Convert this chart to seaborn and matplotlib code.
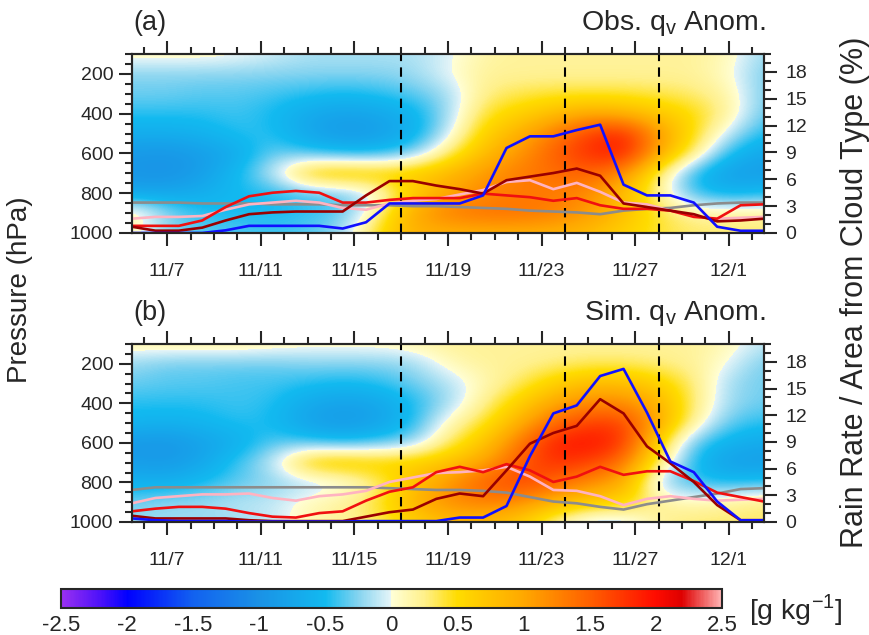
import numpy as np
import pandas as pd
import matplotlib
matplotlib.use("Agg")
import matplotlib.pyplot as plt
from matplotlib.colors import LinearSegmentedColormap, Normalize
from matplotlib.ticker import FixedLocator, MultipleLocator
import seaborn as sns

sns.set_style("ticks")
plt.rcParams['font.family'] = ['Liberation Sans', 'DejaVu Sans']
plt.rcParams['mathtext.fontset'] = 'custom'
plt.rcParams['mathtext.rm'] = 'Liberation Sans'

# ---------------- data ----------------
# day of November (12/1 = 31), daily values centred at noon
days = [5.5, 6.5, 7.5, 8.5, 9.5, 10.5, 11.5, 12.5, 13.5, 14.5, 15.5, 16.5, 17.5, 18.5,
        19.5, 20.5, 21.5, 22.5, 23.5, 24.5, 25.5, 26.5, 27.5, 28.5, 29.5, 30.5, 31.5, 32.5]
tick_days = [7, 11, 15, 19, 23, 27, 31]
tick_labels = ['11/7', '11/11', '11/15', '11/19', '11/23', '11/27', '12/1']
event_days = [17, 24, 28]

series_order = ['gray', 'pink', 'red', 'darkred', 'blue']
series_colors = {'gray': '#8c8c8c', 'pink': '#ffb3c1', 'red': '#f01010',
                 'darkred': '#990000', 'blue': '#1010ff'}

obs_blue = [0, 0, 0, 0, 0.3, 0.8, 0.8, 0.8, 0.8, 0.5, 1.2, 3.3, 3.3, 3.3,
            3.3, 4.2, 9.5, 10.8, 10.8, 11.5, 12.1, 5.4, 4.2, 4.2, 3.4, 0.7, 0.25, 0.25]
obs_darkred = [0.7, 0.26, 0.26, 0.6, 1.4, 2.1, 2.3, 2.4, 2.4, 2.4, 4.2, 5.8, 5.8, 5.3,
               4.9, 4.4, 5.9, 6.3, 6.7, 7.2, 6.4, 3.3, 2.9, 2.5, 2.1, 1.3, 1.4, 1.6]
obs_red = [0.8, 0.8, 0.8, 1.4, 2.9, 4.1, 4.5, 4.7, 4.5, 3.4, 3.4, 3.7, 3.9, 3.9,
           3.9, 4.4, 4.2, 4.0, 3.6, 3.9, 3.1, 2.7, 2.7, 2.5, 1.8, 1.6, 3.1, 3.2]
obs_pink = [1.6, 1.8, 1.8, 1.9, 2.6, 3.2, 3.4, 3.6, 3.4, 2.8, 2.6, 3.3, 3.6, 3.8,
            4.3, 4.8, 5.7, 5.9, 4.9, 5.6, 4.6, 3.4, 3.2, 2.5, 1.9, 1.6, 1.7, 1.8]
obs_gray = [3.4, 3.4, 3.4, 3.3, 3.3, 3.3, 3.2, 3.2, 3.2, 3.1, 3.1, 3.1, 3.0, 3.0,
            2.9, 2.8, 2.7, 2.5, 2.4, 2.3, 2.1, 2.5, 2.7, 2.8, 3.1, 3.3, 3.4, 3.4]

sim_blue = [0.4, 0.2, 0.1, 0.1, 0.1, 0.05, 0.05, 0.05, 0.05, 0.05, 0.1, 0.1, 0.1, 0.1,
            0.5, 0.5, 1.8, 7.4, 12.2, 13.1, 16.4, 17.2, 12.3, 6.8, 5.6, 2.3, 0.2, 0.2]
sim_darkred = [0.7, 0.4, 0.4, 0.4, 0.4, 0.2, 0.1, 0.1, 0.1, 0.1, 0.6, 1.1, 1.4, 2.6,
               3.2, 2.9, 5.8, 8.8, 10.0, 10.8, 13.8, 12.2, 8.5, 6.6, 4.5, 1.9, 0.2, 0.2]
sim_red = [1.2, 1.5, 1.7, 1.7, 1.5, 1.0, 0.6, 0.5, 1.0, 1.2, 2.4, 3.4, 3.9, 5.6,
           6.2, 5.6, 6.5, 5.8, 4.5, 5.1, 6.2, 5.3, 5.7, 5.7, 4.6, 3.3, 2.8, 2.3]
sim_pink = [2.1, 2.7, 2.9, 3.1, 3.1, 3.2, 2.7, 2.4, 2.9, 3.1, 3.5, 4.5, 5.0, 5.5,
            5.6, 5.8, 6.2, 5.1, 3.6, 3.5, 2.9, 1.9, 2.6, 2.9, 2.6, 2.4, 2.5, 2.6]
sim_gray = [3.6, 3.9, 3.9, 3.9, 3.9, 3.9, 3.9, 3.9, 3.9, 3.9, 3.9, 3.8, 3.7, 3.6,
            3.6, 3.5, 3.3, 2.8, 2.3, 2.1, 1.7, 1.4, 2.0, 2.4, 2.8, 3.2, 3.7, 3.8]

# qv anomaly field (g/kg): rows = pressure levels, columns = grid days
grid_days = [5.5, 7.0, 8.5, 10.0, 11.5, 13.0, 14.5, 16.0, 17.5, 19.0,
             20.5, 22.0, 23.5, 25.0, 26.5, 28.0, 29.5, 31.0, 32.5]
grid_levels = [100, 200, 300, 400, 500, 600, 700, 800, 900, 1000]
qv_obs = [
    [0.1, 0.1, 0.1, 0.05, -0.05, -0.15, -0.15, -0.15, -0.15, -0.05, 0.15, 0.2, 0.2, 0.2, 0.2, 0.2, 0.2, 0.1, -0.2],
    [-0.25, -0.25, -0.25, -0.25, -0.25, -0.25, -0.25, -0.25, -0.2, 0.0, 0.2, 0.2, 0.2, 0.2, 0.2, 0.2, 0.2, 0.05, -0.3],
    [-0.3, -0.3, -0.35, -0.35, -0.4, -0.45, -0.5, -0.45, -0.35, -0.2, 0.25, 0.35, 0.4, 0.4, 0.4, 0.35, 0.3, 0.15, -0.3],
    [-0.45, -0.45, -0.45, -0.4, -0.5, -0.7, -0.8, -0.75, -0.6, -0.2, 0.4, 0.6, 0.8, 1.0, 0.9, 0.7, 0.5, 0.2, -0.35],
    [-0.65, -0.65, -0.6, -0.45, -0.45, -0.75, -0.9, -0.85, -0.65, -0.1, 0.6, 0.9, 1.3, 1.7, 1.9, 1.1, 0.5, -0.1, -0.5],
    [-0.9, -0.95, -0.85, -0.7, -0.3, -0.4, -0.5, -0.5, -0.3, 0.3, 0.8, 1.1, 1.5, 1.8, 1.95, 1.0, 0.3, -0.5, -0.75],
    [-0.95, -1.0, -0.85, -0.5, -0.1, 0.7, 0.8, 0.7, 0.7, 0.85, 1.1, 1.3, 1.4, 1.5, 1.2, 0.3, -0.5, -0.85, -0.85],
    [-0.75, -0.75, -0.65, -0.5, -0.5, -0.4, -0.35, -0.05, 0.6, 1.0, 1.2, 1.3, 1.3, 1.2, 0.8, 0.2, -0.45, -0.6, -0.5],
    [0.25, -0.2, -0.45, -0.5, -0.5, -0.45, -0.35, 0.2, 1.0, 1.3, 1.4, 1.4, 1.3, 1.1, 0.8, 0.4, 0.2, 0.2, 0.2],
    [0.1, -0.3, -0.35, -0.35, -0.4, -0.35, -0.2, 0.5, 0.9, 0.9, 0.9, 0.9, 0.9, 0.8, 0.6, 0.4, 0.3, 0.3, 0.3],
]
qv_sim = [
    [0.15, 0.2, 0.2, 0.2, 0.15, 0.1, 0.1, 0.1, 0.15, 0.2, 0.2, 0.2, 0.2, 0.2, 0.2, 0.2, 0.2, 0.1, -0.1],
    [-0.2, -0.3, -0.3, -0.3, -0.3, -0.25, -0.25, -0.25, -0.2, 0.1, 0.2, 0.2, 0.25, 0.3, 0.3, 0.25, 0.2, 0.0, -0.3],
    [-0.3, -0.35, -0.35, -0.4, -0.4, -0.45, -0.5, -0.45, -0.3, -0.15, 0.1, 0.3, 0.6, 0.8, 0.8, 0.6, 0.3, -0.2, -0.3],
    [-0.45, -0.45, -0.45, -0.4, -0.45, -0.7, -0.8, -0.75, -0.5, -0.2, 0.2, 0.6, 1.0, 1.2, 1.2, 0.9, 0.3, -0.2, -0.3],
    [-0.55, -0.6, -0.55, -0.45, -0.5, -0.8, -0.9, -0.8, -0.5, 0.1, 0.4, 0.9, 1.4, 1.7, 1.7, 1.0, 0.2, -0.35, -0.45],
    [-0.9, -0.95, -0.8, -0.65, -0.35, -0.4, -0.5, -0.4, -0.25, 0.3, 0.7, 1.3, 1.9, 2.0, 1.8, 0.6, -0.35, -0.6, -0.7],
    [-0.85, -0.9, -0.75, -0.4, -0.1, 0.7, 0.8, 0.65, 0.65, 0.75, 1.0, 1.5, 1.8, 1.7, 1.4, 0.3, -0.5, -0.85, -0.85],
    [-0.6, -0.65, -0.5, -0.35, -0.25, -0.2, -0.1, 0.25, 0.7, 1.1, 1.5, 1.7, 1.5, 1.2, 1.0, -0.2, -0.45, -0.5, -0.45],
    [-0.3, -0.2, -0.2, -0.1, -0.1, 0.1, 0.2, 0.4, 0.9, 1.2, 1.3, 1.2, 0.9, 0.7, 0.6, 0.2, 0.1, 0.2, 0.3],
    [-0.2, -0.2, -0.2, -0.2, -0.1, 0.1, 0.2, 0.3, 0.6, 0.8, 0.8, 0.7, 0.2, -0.2, -0.2, 0.2, 0.3, 0.3, 0.3],
]

cbar_ticks = [-2.5, -2, -1.5, -1, -0.5, 0, 0.5, 1, 1.5, 2, 2.5]
cbar_labels = ['-2.5', '-2', '-1.5', '-1', '-0.5', '0', '0.5', '1', '1.5', '2', '2.5']

# ---------------- colormap ----------------
vmin, vmax = -2.5, 2.5
nodes = [(-2.5, '#9a30f0'), (-2.2, '#4a10fa'), (-2.0, '#0000ff'), (-1.5, '#1262f0'),
         (-1.0, '#1a92e6'), (-0.5, '#12baf0'), (-0.25, '#86d4f0'), (-0.001, '#e6f5f8'),
         (0.0, '#ffffd6'), (0.25, '#fff08a'), (0.5, '#ffdc00'), (1.0, '#ffa800'),
         (1.5, '#ff6000'), (2.0, '#ff0c00'), (2.2, '#de0000'), (2.5, '#ffb4b4')]
cmap = LinearSegmentedColormap.from_list(
    'qv', [((v - vmin) / (vmax - vmin), c) for v, c in nodes], N=512)
norm = Normalize(vmin, vmax)

# ---------------- figure ----------------
W, H = 870, 635
fig = plt.figure(figsize=(W / 100, H / 100), dpi=100)


def fr(x0, y0, x1, y1):
    return [x0 / W, 1 - y1 / H, (x1 - x0) / W, (y1 - y0) / H]


panels = [
    (fr(132, 54, 764, 233), qv_obs, [obs_gray, obs_pink, obs_red, obs_darkred, obs_blue],
     '(a)', 'Obs. q$_\\mathregular{v}$ Anom.'),
    (fr(132, 344, 764, 522), qv_sim, [sim_gray, sim_pink, sim_red, sim_darkred, sim_blue],
     '(b)', 'Sim. q$_\\mathregular{v}$ Anom.'),
]

LW = 1.5
im = None
for rect, field, lines, tag, title in panels:
    ax = fig.add_axes(rect)
    dx = grid_days[1] - grid_days[0]
    dp = grid_levels[1] - grid_levels[0]
    extent = [grid_days[0] - dx / 2, grid_days[-1] + dx / 2,
              grid_levels[-1] + dp / 2, grid_levels[0] - dp / 2]
    im = ax.imshow(np.array(field), cmap=cmap, norm=norm, extent=extent, aspect='auto',
                   interpolation='bicubic', origin='upper', zorder=0)
    for d in event_days:
        ax.axvline(d, color='black', lw=1.5, ls=(0, (4.5, 3)), zorder=2)
    ax.set_xlim(days[0], days[-1])
    ax.set_ylim(1000, 100)
    ax.xaxis.set_major_locator(FixedLocator(tick_days))
    ax.set_xticklabels(tick_labels)
    ax.xaxis.set_minor_locator(MultipleLocator(1))
    ax.yaxis.set_major_locator(FixedLocator([200, 400, 600, 800, 1000]))
    ax.yaxis.set_minor_locator(MultipleLocator(50))
    ax.tick_params(axis='x', which='both', top=True, bottom=True, labeltop=False,
                   direction='out')
    ax.tick_params(axis='x', which='major', pad=12)
    ax.tick_params(axis='y', which='both', left=True, right=False, direction='out')
    ax.tick_params(axis='y', which='major', pad=4)
    ax.tick_params(which='major', length=9.5, width=LW, labelsize=14)
    ax.tick_params(which='minor', length=5, width=LW)
    for s in ax.spines.values():
        s.set_linewidth(LW)

    ax2 = ax.twinx()
    df = pd.DataFrame({
        'day': days * len(series_order),
        'value': [v for arr in lines for v in arr],
        'series': [n for n in series_order for _ in days],
    })
    sns.lineplot(data=df, x='day', y='value', hue='series', hue_order=series_order,
                 palette=series_colors, legend=False, ax=ax2, linewidth=1.9,
                 estimator=None, sort=False)
    ax2.set_xlabel('')
    ax2.set_ylabel('')
    ax2.set_ylim(0, 20)
    ax2.set_xlim(days[0], days[-1])
    ax2.yaxis.set_major_locator(FixedLocator([0, 3, 6, 9, 12, 15, 18]))
    ax2.yaxis.set_minor_locator(MultipleLocator(1))
    ax2.tick_params(axis='y', which='both', right=True, left=False, direction='out')
    ax2.tick_params(axis='y', which='major', length=9.5, width=LW, labelsize=14, pad=6)
    ax2.tick_params(axis='y', which='minor', length=5, width=LW)
    for s in ax2.spines.values():
        s.set_linewidth(LW)

    x0 = rect[0]
    ytop = rect[1] + rect[3]
    fig.text(x0 + 1 / W, ytop + 31 / H, tag, ha='left', va='center', fontsize=19.5)
    fig.text(x0 + rect[2] + 2 / W, ytop + 31 / H, title, ha='right', va='center',
             fontsize=20.5)

fig.text(20 / W, 1 - 290 / H, 'Pressure (hPa)', rotation=90, ha='center', va='center',
         fontsize=20)
fig.text(855 / W, 1 - 292 / H, 'Rain Rate / Area from Cloud Type (%)', rotation=90,
         ha='center', va='center', fontsize=22)

cax = fig.add_axes(fr(61, 589, 722, 608))
cb = fig.colorbar(im, cax=cax, orientation='horizontal')
cb.set_ticks(cbar_ticks)
cb.set_ticklabels(cbar_labels)
cax.tick_params(length=0, labelsize=16, pad=5)
cb.outline.set_linewidth(LW)
fig.text(749 / W, 1 - 610 / H, '[g kg$^{\\mathregular{-1}}$]', ha='left', va='center',
         fontsize=20.5)

fig.savefig('out.png', dpi=100)
